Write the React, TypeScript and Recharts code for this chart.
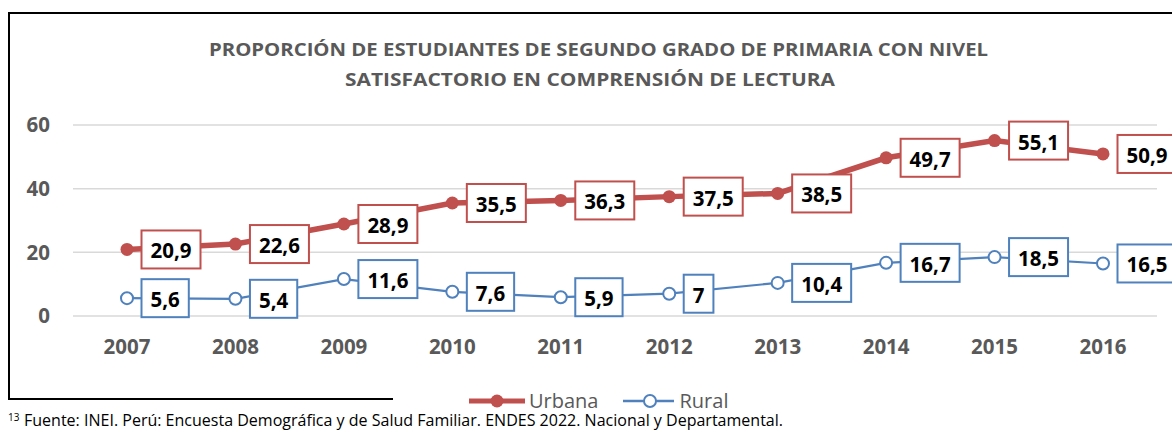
import { LineChart, Line, XAxis, YAxis, CartesianGrid, LabelList, Legend } from "recharts"

// datos (ENDES / ECE)
const years = ["2007", "2008", "2009", "2010", "2011", "2012", "2013", "2014", "2015", "2016"]
const urbana = [20.9, 22.6, 28.9, 35.5, 36.3, 37.5, 38.5, 49.7, 55.1, 50.9]
const rural = [5.6, 5.4, 11.6, 7.6, 5.9, 7, 10.4, 16.7, 18.5, 16.5]
const yTicks = [0, 20, 40, 60]

const titleLines = [
    "PROPORCIÓN DE ESTUDIANTES DE SEGUNDO GRADO DE PRIMARIA CON NIVEL",
    "SATISFACTORIO EN COMPRENSIÓN DE LECTURA",
]
const footnoteMark = "13"
const footnote = "Fuente: INEI. Perú: Encuesta Demográfica y de Salud Familiar. ENDES 2022. Nacional y Departamental."

const RED = "#C0504D"
const BLUE = "#4F81BD"
const GRAY = "#595959"
const FONT = "'Open Sans', 'Noto Sans', sans-serif"

const data = years.map((year, i) => ({ year, urbana: urbana[i], rural: rural[i] }))

const fmt = (v: number) => String(v).replace(".", ",")

function BoxLabel(props: any) {
    const { value, color } = props
    const x = props.x ?? props.viewBox?.x
    const y = props.y ?? props.viewBox?.y
    if (x == null || y == null) return null
    const text = fmt(Number(value))
    const digits = text.replace(",", "").length
    const commas = text.length - digits
    const w = digits * 11.7 + commas * 5.9 + 18
    const left = x + 14.5
    return (
        <g>
            <rect x={left} y={y - 19} width={w} height={38} fill="#fff" stroke={color} strokeWidth={2} />
            <text
                x={left + w / 2}
                y={y + 1}
                textAnchor="middle"
                dominantBaseline="central"
                fontSize={20.5}
                fontWeight={700}
                fontFamily={FONT}
                fill="#000"
            >
                {text}
            </text>
        </g>
    )
}

function LegendContent() {
    return (
        <div style={{ display: "flex", alignItems: "center", height: 30, fontFamily: FONT, fontSize: 20, color: GRAY, lineHeight: 1 }}>
            <svg width={56} height={16}>
                <line x1={0} x2={56} y1={8} y2={8} stroke={RED} strokeWidth={5} />
                <circle cx={28} cy={8} r={6.5} fill={RED} />
            </svg>
            <span style={{ marginLeft: 4 }}>Urbana</span>
            <svg width={51} height={16} style={{ marginLeft: 25 }}>
                <line x1={0} x2={51} y1={8} y2={8} stroke={BLUE} strokeWidth={2.5} />
                <circle cx={27} cy={8} r={6} fill="#fff" stroke={BLUE} strokeWidth={2} />
            </svg>
            <span style={{ marginLeft: 5 }}>Rural</span>
        </div>
    )
}

export default function App() {
    return (
        <div style={{ position: "relative", width: 1172, height: 430, overflow: "hidden" }}>
            <style>{"html, body { margin: 0; overflow: hidden; }"}</style>
            <div style={{ position: "absolute", left: 8, top: 8, width: 1164, height: 422 }}>
                <LineChart
                    width={1164}
                    height={410}
                    data={data}
                    margin={{ top: 117, right: 15, bottom: 2, left: 0 }}
                >
                    <CartesianGrid vertical={false} stroke="#D9D9D9" strokeWidth={1.5} />
                    <XAxis
                        dataKey="year"
                        axisLine={false}
                        tickLine={false}
                        tickSize={0}
                        tickMargin={23}
                        height={70}
                        interval={0}
                        padding={{ left: 54, right: 54 }}
                        tick={{ fontSize: 20.5, fontWeight: 700, fill: GRAY, fontFamily: FONT }}
                    />
                    <YAxis
                        domain={[0, 60]}
                        ticks={yTicks}
                        width={65}
                        axisLine={false}
                        tickLine={false}
                        tickSize={0}
                        tickMargin={23}
                        tick={{ fontSize: 20.5, fontWeight: 700, fill: GRAY, fontFamily: FONT }}
                    />
                    <Legend
                        verticalAlign="bottom"
                        height={30}
                        content={<LegendContent />}
                        wrapperStyle={{ left: 461, width: 320, height: 30, bottom: 2 }}
                    />
                    <Line
                        dataKey="urbana"
                        name="Urbana"
                        stroke={RED}
                        strokeWidth={5.5}
                        dot={{ r: 6.5, fill: RED, stroke: RED, strokeWidth: 0 }}
                        activeDot={false}
                        isAnimationActive={false}
                    >
                        <LabelList dataKey="urbana" content={(p: any) => <BoxLabel {...p} color={RED} />} />
                    </Line>
                    <Line
                        dataKey="rural"
                        name="Rural"
                        stroke={BLUE}
                        strokeWidth={2.2}
                        dot={{ r: 6, fill: "#fff", stroke: BLUE, strokeWidth: 2 }}
                        activeDot={false}
                        isAnimationActive={false}
                    >
                        <LabelList dataKey="rural" content={(p: any) => <BoxLabel {...p} color={BLUE} />} />
                    </Line>
                </LineChart>

                <svg
                    width={1164}
                    height={422}
                    style={{ position: "absolute", left: 0, top: 0, pointerEvents: "none" }}
                >
                    <rect x={0} y={4} width={1164} height={2} fill="#000" />
                    <rect x={0} y={4} width={2} height={388} fill="#000" />
                    <rect x={0} y={390} width={385} height={2} fill="#000" />
                    <text x={590.5} y={48} textAnchor="middle" fontSize={18.5} fontWeight={700} fill={GRAY} fontFamily={FONT}
                        textLength={779} lengthAdjust="spacingAndGlyphs">
                        {titleLines[0]}
                    </text>
                    <text x={582} y={78} textAnchor="middle" fontSize={18.5} fontWeight={700} fill={GRAY} fontFamily={FONT}
                        textLength={490} lengthAdjust="spacingAndGlyphs">
                        {titleLines[1]}
                    </text>
                    <text x={0} y={413} fontSize={10} fill="#000" fontFamily={FONT}>{footnoteMark}</text>
                    <text x={16} y={418} fontSize={16} fill="#000" fontFamily={FONT}
                        textLength={759} lengthAdjust="spacingAndGlyphs">
                        {footnote}
                    </text>
                </svg>
            </div>
        </div>
    )
}
